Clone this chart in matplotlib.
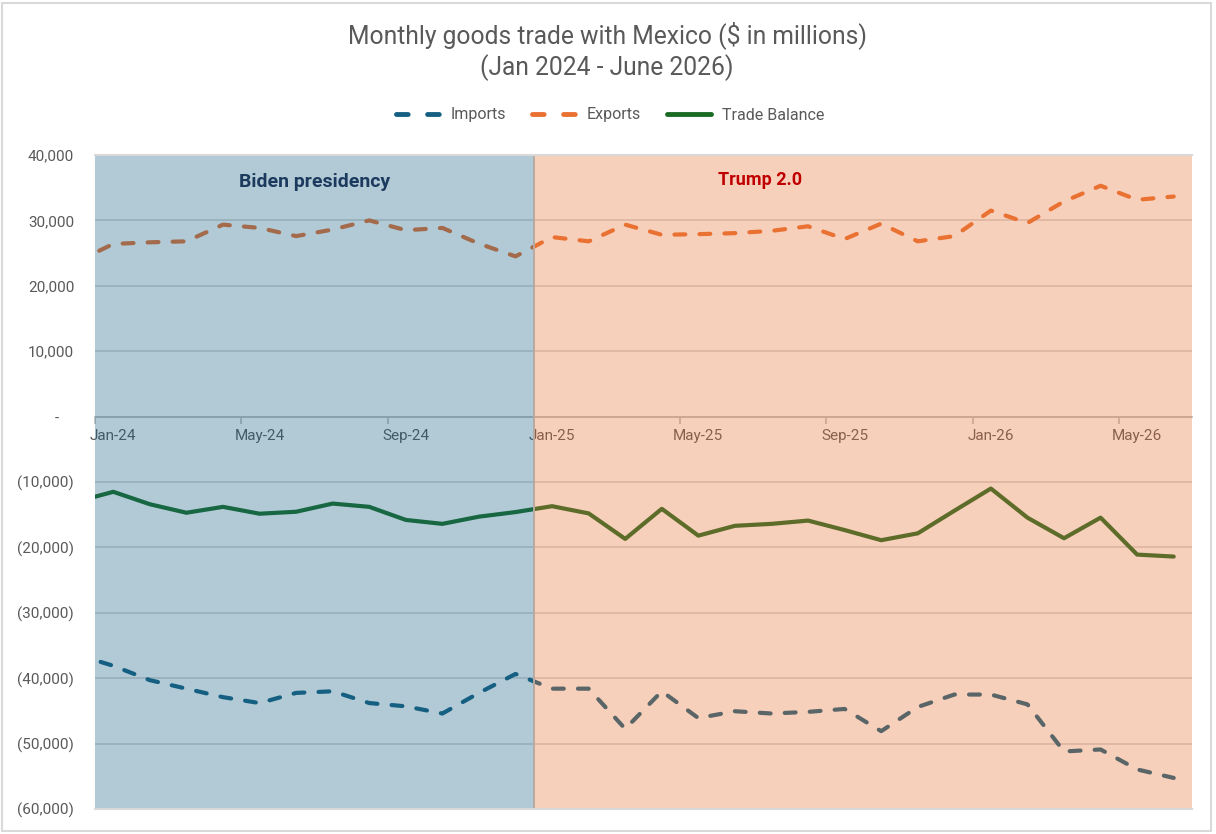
import matplotlib
matplotlib.use("Agg")
import matplotlib.pyplot as plt
from matplotlib.ticker import FixedLocator, FuncFormatter, NullFormatter
from matplotlib.lines import Line2D
from matplotlib.patches import Rectangle

plt.rcParams['font.family'] = ['Roboto', 'DejaVu Sans']

# months, Dec-23 first (it sits left of the axis and only shows as a clipped stub)
months = ['Dec-23',
          'Jan-24', 'Feb-24', 'Mar-24', 'Apr-24', 'May-24', 'Jun-24',
          'Jul-24', 'Aug-24', 'Sep-24', 'Oct-24', 'Nov-24', 'Dec-24',
          'Jan-25', 'Feb-25', 'Mar-25', 'Apr-25', 'May-25', 'Jun-25',
          'Jul-25', 'Aug-25', 'Sep-25', 'Oct-25', 'Nov-25', 'Dec-25',
          'Jan-26', 'Feb-26', 'Mar-26', 'Apr-26', 'May-26', 'Jun-26']

imports = [-36400,
           -38100, -40300, -41600, -42900, -43800, -42250,
           -42000, -43800, -44300, -45400, -42250, -39350,
           -41600, -41600, -47750, -42000, -46100, -45050,
           -45400, -45150, -44700, -48100, -44400, -42500,
           -42500, -44000, -51200, -50900, -53950, -55250]

exports = [23700,
           26400, 26650, 26800, 29350, 28850, 27600,
           28600, 30000, 28500, 28850, 26450, 24500,
           27450, 26800, 29350, 27800, 27900, 28050,
           28400, 29100, 27150, 29500, 26800, 27600,
           31500, 29600, 32900, 35300, 33150, 33650]

balance = [-13000,
           -11500, -13400, -14700, -13800, -14850, -14550,
           -13300, -13800, -15800, -16400, -15300, -14600,
           -13700, -14800, -18700, -14100, -18200, -16700,
           -16400, -15900, -17350, -18900, -17850, -14400,
           -11000, -15450, -18600, -15450, -21100, -21400]

tick_months = ['Jan-24', 'May-24', 'Sep-24', 'Jan-25', 'May-25', 'Sep-25', 'Jan-26', 'May-26']

c_imp = '#156082'
c_exp = '#E97132'
c_bal = '#196B24'
c_txt = '#595959'
c_grid = '#D9D9D9'

# each month is one category of width 1, point at its centre
x = [i - 0.5 for i in range(len(months))]
n_shown = len(months) - 1
biden_end = 12

fig = plt.figure(figsize=(12.16, 8.34), dpi=100)
ax = fig.add_axes([95 / 1216, 1 - 809 / 834, (1192 - 95) / 1216, (809 - 155) / 834])

dash = (2.6, 3.4)
ax.plot(x, imports, color=c_imp, lw=3.0, dashes=dash, dash_capstyle='round', zorder=2)
ax.plot(x, exports, color=c_exp, lw=3.0, dashes=dash, dash_capstyle='round', zorder=2)
ax.plot(x, balance, color=c_bal, lw=3.0, solid_capstyle='round', zorder=2)

# shaded periods sit on top of the lines, like the Excel overlay
ax.axvspan(0, biden_end, color=c_imp, alpha=0.33, lw=0, zorder=3)
ax.axvspan(biden_end, n_shown, color=c_exp, alpha=0.33, lw=0, zorder=3)
ax.axvline(biden_end, color='#B8A9A2', lw=1.4, zorder=3.1)

ax.set_xlim(0, n_shown)
ax.set_ylim(-60000, 40000)

ax.set_yticks(range(-60000, 40001, 10000))
ax.yaxis.grid(True, color=c_grid, lw=1.3)
ax.set_axisbelow(True)

def acct(v, pos):
    if v > 0:
        return f'{v:,.0f}'
    if v == 0:
        return '-    '
    return f'({-v:,.0f})'

ax.yaxis.set_major_formatter(FuncFormatter(acct))
ax.tick_params(axis='y', length=0, pad=15, labelsize=11, labelcolor=c_txt)

# x axis sits on zero; tick marks at category edges, labels at category centres
ax.spines['bottom'].set_position(('data', 0))
ax.spines['bottom'].set_color('#BFBFBF')
ax.spines['bottom'].set_linewidth(1.3)
ax.spines['bottom'].set_zorder(1)
for s in ['top', 'left', 'right']:
    ax.spines[s].set_visible(False)

edge_ticks = [months.index(m) - 1 for m in tick_months]
ax.xaxis.set_major_locator(FixedLocator(edge_ticks))
ax.xaxis.set_major_formatter(NullFormatter())
ax.xaxis.set_minor_locator(FixedLocator([t + 0.5 for t in edge_ticks]))
ax.set_xticklabels(tick_months, minor=True)
ax.tick_params(axis='x', which='major', length=5, width=1.2, color='#BFBFBF', direction='out')
ax.tick_params(axis='x', which='minor', length=0, pad=9, labelsize=11, labelcolor=c_txt)

# plot area border top and bottom
for yv in (40000, -60000):
    ax.axhline(yv, color=c_grid, lw=1.5, zorder=4, clip_on=False)

ax.text(6.0, 35900, 'Biden presidency', ha='center', va='center',
        fontsize=14, fontweight='bold', color='#1B3A5E', zorder=5)
ax.text(18.2, 36200, 'Trump 2.0', ha='center', va='center',
        fontsize=13, fontweight='bold', color='#C00000', zorder=5)

fig.text(607 / 1216, 1 - 35 / 834, 'Monthly goods trade with Mexico ($ in millions)',
         ha='center', va='center', fontsize=17.7, color=c_txt)
fig.text(607 / 1216, 1 - 68 / 834, '(Jan 2024 - June 2026)',
         ha='center', va='center', fontsize=17.7, color=c_txt)

handles = [
    Line2D([], [], color=c_imp, lw=3.5, dashes=(2.4, 4.0), dash_capstyle='round'),
    Line2D([], [], color=c_exp, lw=3.5, dashes=(2.4, 4.0), dash_capstyle='round'),
    Line2D([], [], color=c_bal, lw=3.5, solid_capstyle='round'),
]
fig.legend(handles, ['Imports', 'Exports', 'Trade Balance'], loc='center',
           bbox_to_anchor=(610 / 1216, 1 - 115 / 834), ncol=3, frameon=False,
           fontsize=11.5, labelcolor=c_txt, handlelength=2.75, handletextpad=0.7,
           columnspacing=1.6)

# chart border
fig.add_artist(Rectangle((2 / 1216, 3 / 834), 1209 / 1216, 828 / 834, transform=fig.transFigure,
                         fill=False, edgecolor=c_grid, lw=1.5))

fig.savefig('out.png', dpi=100)
